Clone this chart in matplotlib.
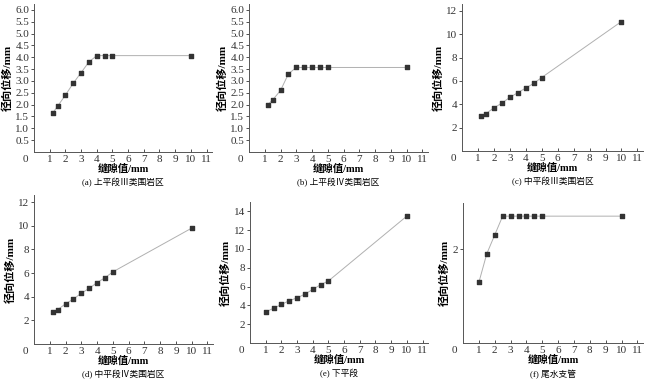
import numpy as np
import matplotlib.pyplot as plt

plt.rcParams['font.family'] = ['Liberation Serif', 'Noto Sans CJK SC']
plt.rcParams['font.size'] = 8

# 缝隙值 (mm)
x_a = [1.2, 1.5, 2, 2.5, 3, 3.5, 4, 4.5, 5, 10]
x_e = [1, 1.5, 2, 2.5, 3, 3.5, 4, 4.5, 5, 10]

# 径向位移 (mm)
y_a = [1.65, 1.93, 2.4, 2.9, 3.35, 3.8, 4.07, 4.07, 4.07, 4.07]
y_b = [2.0, 2.2, 2.6, 3.3, 3.57, 3.57, 3.57, 3.57, 3.57, 3.57]
y_c = [3.0, 3.2, 3.7, 4.1, 4.6, 5.0, 5.4, 5.8, 6.3, 11.1]
y_d = [2.7, 2.9, 3.4, 3.8, 4.3, 4.7, 5.2, 5.6, 6.1, 9.8]
y_e = [3.3, 3.7, 4.1, 4.5, 4.8, 5.2, 5.7, 6.2, 6.6, 13.5]
y_f = [1.29, 1.9, 2.3, 2.7, 2.7, 2.7, 2.7, 2.7, 2.7, 2.7]

captions = ['(a) 上平段Ⅲ类围岩区', '(b) 上平段Ⅳ类围岩区', '(c) 中平段Ⅲ类围岩区',
            '(d) 中平段Ⅳ类围岩区', '(e) 下平段', '(f) 尾水支管']

panels = [
    (x_a, y_a, 6.25, np.arange(0.5, 6.01, 0.5), '%.1f'),
    (x_a, y_b, 6.25, np.arange(0.5, 6.01, 0.5), '%.1f'),
    (x_a, y_c, 12.6, [2, 4, 6, 8, 10, 12], '%d'),
    (x_a, y_d, 12.6, [2, 4, 6, 8, 10, 12], '%d'),
    (x_e, y_e, 15.0, [2, 4, 6, 8, 10, 12, 14], '%d'),
    (x_e, y_f, 2.98, [2], '%d'),
]

# axes boxes in pixels (left, right, top, bottom) of a 650x385 figure
boxes = [(34, 212, 4, 152), (249, 428, 4, 152), (462, 643, 4, 151),
         (34, 213, 195, 344), (250, 428, 202, 343), (463, 643, 203, 343)]

fig = plt.figure(figsize=(6.5, 3.85), dpi=100)
W, H = 650, 385

for (x, y, ytop, yt, fmt), (l, r, t, b), cap in zip(panels, boxes, captions):
    ax = fig.add_axes([l / W, 1 - b / H, (r - l) / W, (b - t) / H])
    ax.plot(x, y, color='#b0b0b0', lw=0.7, zorder=1)
    ax.scatter(x, y, marker='s', s=5, color='#333333', zorder=2)
    ax.set_xlim(0, 11.35)
    ax.set_ylim(0, ytop)
    ax.set_xticks(range(1, 12))
    ax.set_yticks(yt)
    ax.set_yticklabels([fmt % v for v in yt])
    ax.spines['top'].set_visible(False)
    ax.spines['right'].set_visible(False)
    for s in ['left', 'bottom']:
        ax.spines[s].set_color('#555555')
        ax.spines[s].set_linewidth(0.7)
    ax.tick_params(axis='x', direction='in', length=2.5, width=0.6, pad=2, colors='#333333')
    ax.tick_params(axis='y', direction='out', length=2.5, width=0.6, pad=1, colors='#333333')
    ax.text(-0.035, -0.02, '0', transform=ax.transAxes, ha='right', va='top',
            color='#333333')
    ax.set_xlabel('缝隙值/mm', fontsize=7.5, labelpad=0, fontweight='bold')
    ax.set_ylabel('径向位移/mm', fontsize=8, labelpad=2, fontweight='bold')
    ax.annotate(cap, xy=(0.5, 0), xycoords='axes fraction', xytext=(0, -19),
                textcoords='offset points', ha='center', va='top', fontsize=6.3)

fig.savefig('out.png', dpi=100)
